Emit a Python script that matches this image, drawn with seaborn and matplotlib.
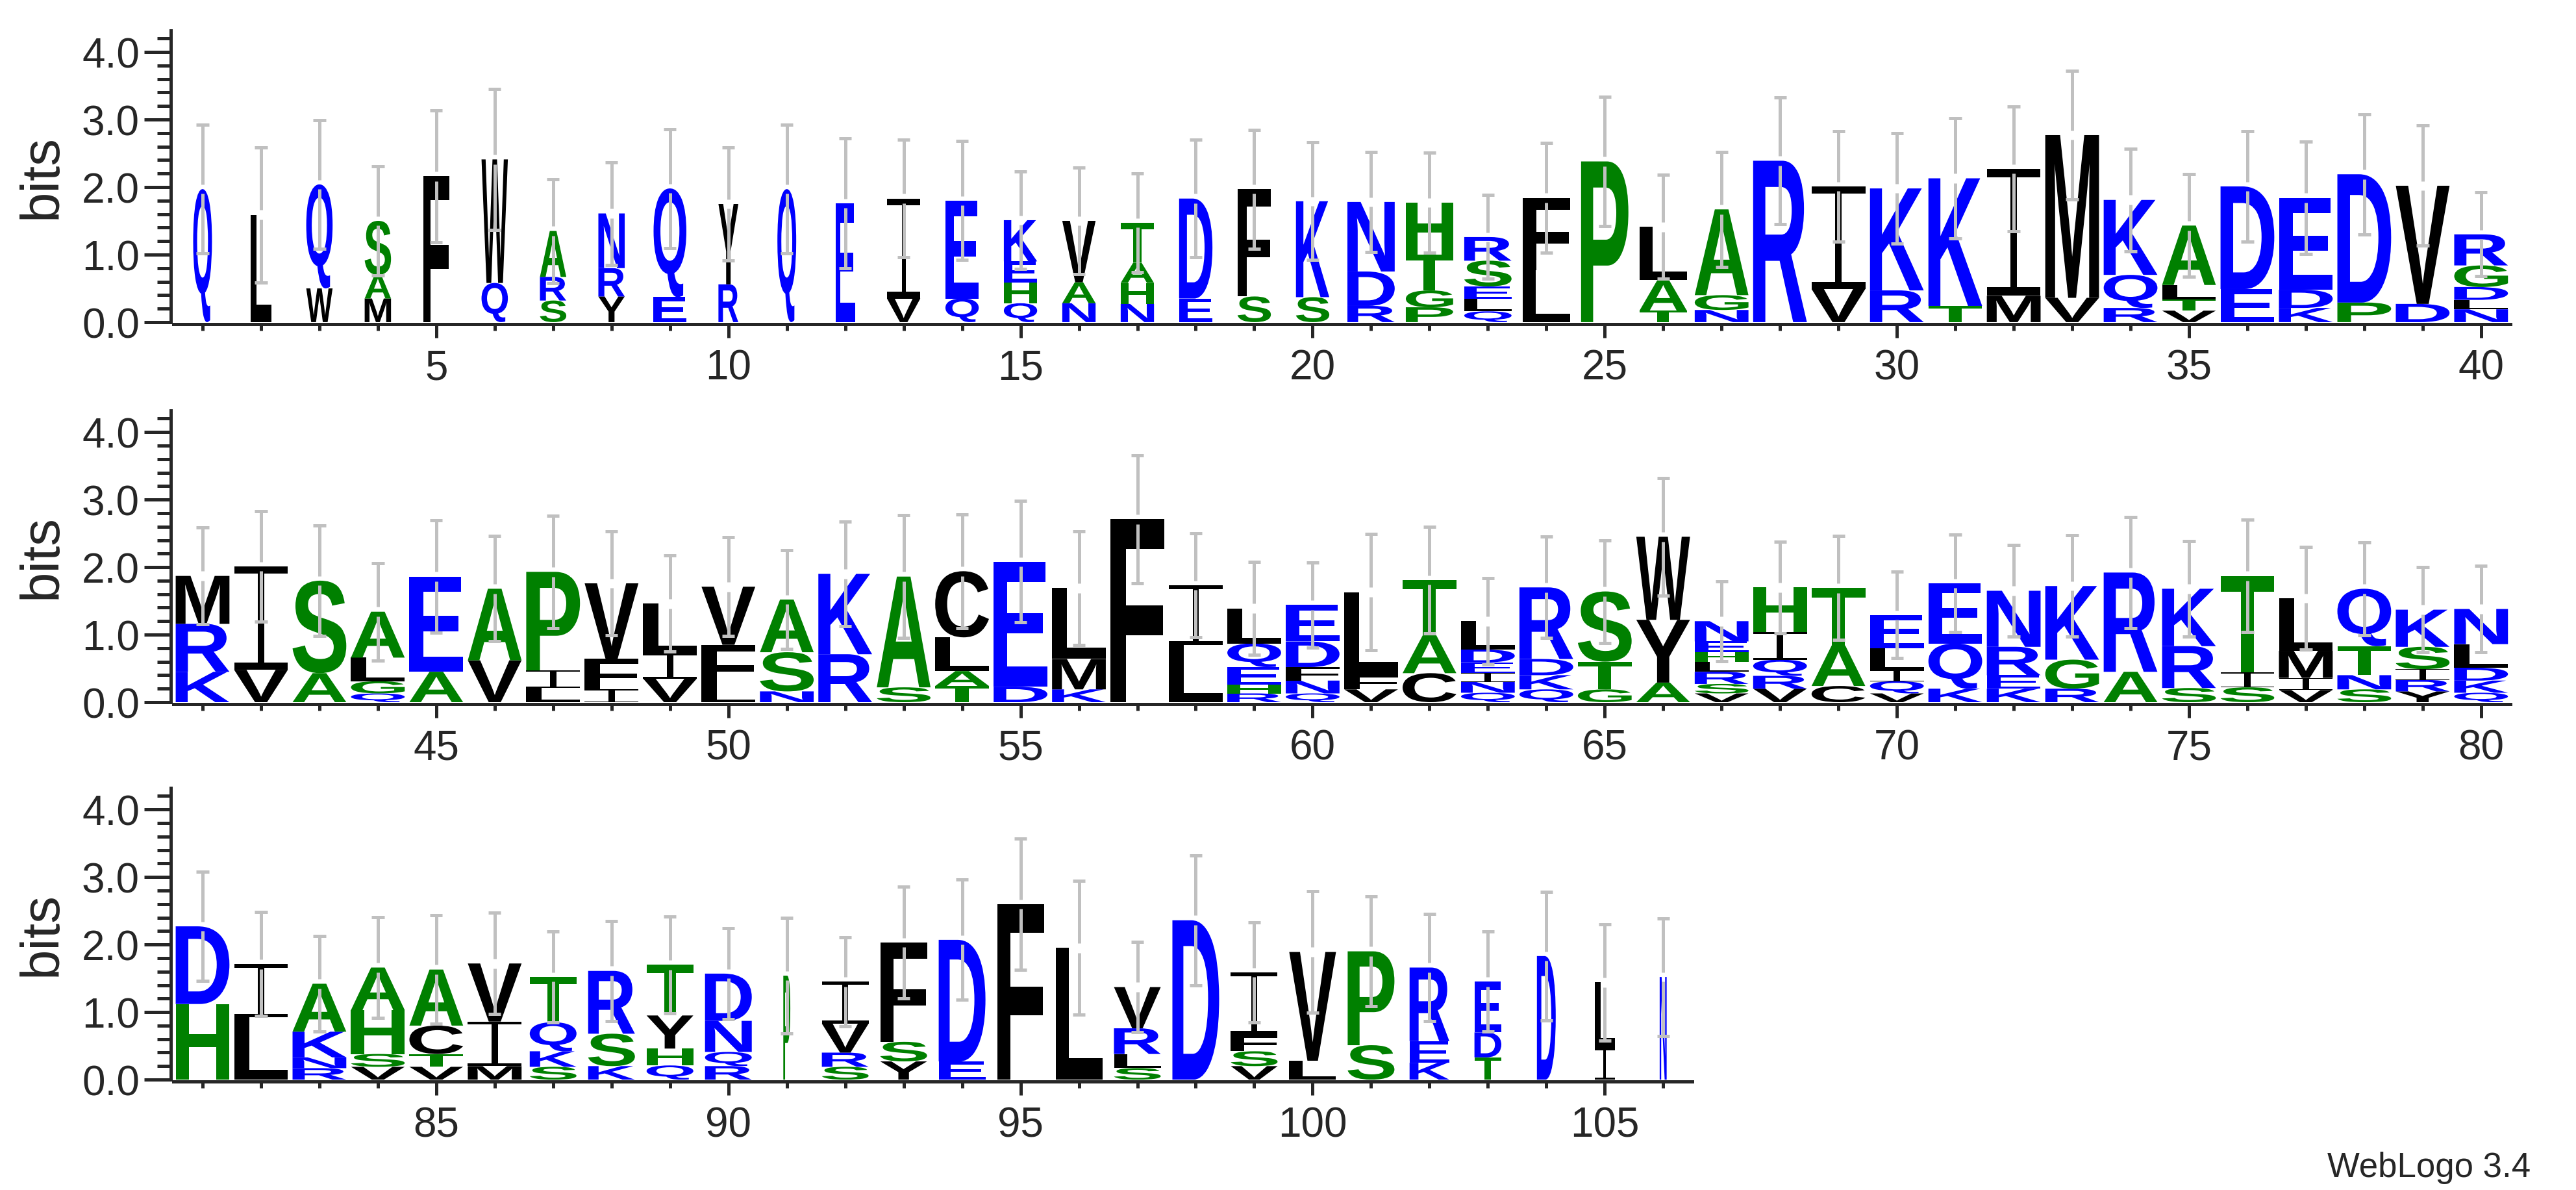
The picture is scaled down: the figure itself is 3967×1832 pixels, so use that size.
import matplotlib
matplotlib.use("Agg")
import matplotlib.pyplot as plt
import seaborn as sns
from matplotlib.textpath import TextPath
from matplotlib.patches import PathPatch
from matplotlib.path import Path
from matplotlib.font_manager import FontProperties
from matplotlib import transforms

# letters of each stack, bottom to top (positions 1..106)
stack_letters = [
    "Q", "L", "WQ", "MAS", "F", "QW", "SRA", "YRN", "EQ", "RY",
    "Q", "E", "VI", "QE", "QHEK", "NAV", "NHAT", "ED", "SF", "SK",
    "RDN", "PGTH", "QLESR", "LF", "P", "TAL", "NGA", "R", "VI", "RK",
    "TK", "MI", "VM", "RQK", "VTLA", "ED", "KDE", "PD", "DV", "NLDGR",
    "KRM", "VI", "AS", "QGLA", "AE", "VA", "LIP", "IFV", "VIL", "LFV",
    "NSA", "RK", "SA", "TALC", "DE", "KML", "F", "LI", "RHEQL", "QNFDE",
    "VFL", "CAT", "QNIEDL", "QKDR", "GTS", "AYW", "VSRLHEN", "VRQIH", "CAT", "VQILE",
    "KQE", "KERN", "RGK", "AR", "SRK", "SIT", "VIML", "SNTQ", "YRISK", "QKDLN",
    "HD", "LI", "RNKA", "VSHA", "VTCA", "MIV", "SKQT", "KSR", "QHYT", "RQND",
    "P", "SRVI", "YSF", "ED", "F", "L", "SLRV", "D", "VSFI", "LV",
    "SP", "KER", "TDE", "D", "IL", "N",
]

# bits of each letter, same order
stack_bits = [
    [1.97], [1.59], [0.50, 1.54], [0.35, 0.35, 0.80], [2.16],
    [0.58, 1.83], [0.32, 0.35, 0.68], [0.38, 0.42, 0.81], [0.37, 1.61], [0.56, 1.19],
    [1.97], [1.76], [0.35, 1.48], [0.35, 1.45], [0.28, 0.31, 0.31, 0.61],
    [0.28, 0.31, 0.91], [0.27, 0.31, 0.30, 0.59], [0.35, 1.48], [0.38, 1.59], [0.37, 1.42],
    [0.24, 0.51, 1.03], [0.22, 0.25, 0.53, 0.77], [0.16, 0.19, 0.18, 0.38, 0.35], [0.77, 1.07], [2.38],
    [0.17, 0.45, 0.79], [0.18, 0.22, 1.27], [2.39], [0.49, 1.52], [0.47, 1.51],
    [0.24, 1.89], [0.39, 1.88], [0.36, 2.41], [0.21, 0.49, 1.11], [0.17, 0.17, 0.21, 0.88],
    [0.49, 1.52], [0.21, 0.27, 1.36], [0.29, 1.90], [0.27, 1.75], [0.19, 0.14, 0.19, 0.32, 0.46],
    [0.45, 0.71, 0.71], [0.48, 1.53], [0.43, 1.37], [0.13, 0.18, 0.35, 0.68], [0.45, 1.41],
    [0.62, 1.06], [0.21, 0.26, 1.46], [0.19, 0.45, 1.12], [0.35, 0.37, 0.74], [0.22, 0.63, 0.86],
    [0.16, 0.58, 0.78], [0.71, 1.19], [0.22, 1.64], [0.24, 0.22, 0.50, 0.98], [0.23, 1.85],
    [0.19, 0.45, 1.05], [2.71], [0.85, 0.88], [0.13, 0.13, 0.26, 0.35, 0.52], [0.13, 0.19, 0.20, 0.38, 0.54],
    [0.19, 0.21, 1.23], [0.43, 0.56, 0.82], [0.14, 0.16, 0.13, 0.16, 0.19, 0.42], [0.19, 0.21, 0.24, 1.06], [0.19, 0.41, 1.04],
    [0.29, 0.93, 1.23], [0.13, 0.14, 0.18, 0.15, 0.14, 0.16, 0.30], [0.20, 0.19, 0.24, 0.41, 0.66], [0.24, 0.60, 0.85], [0.13, 0.18, 0.16, 0.33, 0.49],
    [0.20, 0.67, 0.89], [0.20, 0.20, 0.42, 0.83], [0.20, 0.43, 1.09], [0.45, 1.47], [0.21, 0.62, 0.85],
    [0.22, 0.22, 1.43], [0.18, 0.18, 0.40, 0.78], [0.19, 0.21, 0.43, 0.85], [0.16, 0.17, 0.16, 0.33, 0.55], [0.14, 0.18, 0.19, 0.35, 0.52],
    [1.12, 1.15], [0.92, 0.79], [0.17, 0.16, 0.38, 0.71], [0.19, 0.19, 0.65, 0.63], [0.19, 0.19, 0.42, 0.83],
    [0.20, 0.66, 0.86], [0.19, 0.23, 0.43, 0.67], [0.20, 0.48, 0.93], [0.21, 0.25, 0.49, 0.75], [0.20, 0.21, 0.46, 0.70],
    [1.54], [0.19, 0.21, 0.43, 0.62], [0.27, 0.29, 1.47], [0.27, 1.80], [2.60],
    [1.95], [0.17, 0.21, 0.38, 0.61], [2.36], [0.20, 0.22, 0.24, 0.93], [0.28, 1.61],
    [0.51, 1.39], [0.25, 0.32, 1.09], [0.33, 0.37, 0.75], [1.83], [0.46, 0.98], [1.52],
]

# half length of the error bar at each stack top (bits)
err_bits = [
    0.95, 1.00, 0.95, 0.81, 0.98, 1.04, 0.77, 0.76, 0.88, 0.84,
    0.95, 0.96, 0.87, 0.88, 0.72, 0.79, 0.73, 0.87, 0.88, 0.87,
    0.74, 0.74, 0.62, 0.81, 0.96, 0.77, 0.85, 0.94, 0.82, 0.82,
    0.89, 0.92, 0.95, 0.76, 0.76, 0.82, 0.83, 0.89, 0.89, 0.62,
    0.72, 0.82, 0.82, 0.72, 0.83, 0.78, 0.83, 0.77, 0.71, 0.73,
    0.73, 0.77, 0.91, 0.84, 0.90, 0.84, 0.95, 0.77, 0.69, 0.63,
    0.86, 0.79, 0.64, 0.75, 0.76, 0.87, 0.59, 0.68, 0.77, 0.64,
    0.72, 0.68, 0.75, 0.82, 0.71, 0.83, 0.76, 0.69, 0.63, 0.64,
    0.81, 0.77, 0.71, 0.75, 0.80, 0.75, 0.67, 0.74, 0.72, 0.67,
    0.86, 0.66, 0.83, 0.89, 0.97, 0.99, 0.67, 0.96, 0.74, 0.90,
    0.81, 0.79, 0.74, 0.95, 0.86, 0.87,
]

# stack width (fraction of a full column, i.e. occupancy)
col_width = (
    [0.35, 0.38] + [0.49] * 6 + [0.61, 0.37, 0.35, 0.36] + [0.62] * 8
    + [0.88] * 6 + [1.0] * 60 + [0.87] * 4 + [0.13] + [0.87] * 10
    + [0.74, 0.50, 0.35, 0.37, 0.13]
)

row_ranges = [(1, 40), (41, 80), (81, 106)]

hydro_colors = {}
for aa in "RKDENQ":
    hydro_colors[aa] = "#0000FF"
for aa in "SGHTAP":
    hydro_colors[aa] = "#008000"
for aa in "YVMCLFIW":
    hydro_colors[aa] = "#000000"

sns.set_style("ticks")
plt.rcParams["font.family"] = ["Liberation Sans", "DejaVu Sans"]
glyph_font = FontProperties(family="Liberation Sans", weight="bold")

LINE_W = 3.6
FULL_W = 0.92
GAP = 0.07
CAP = 0.107
YMAX = 4.32

# serif capital I as WebLogo draws it (unit box)
_b, _s = 0.067, 0.06
serif_i = Path([
    (0, 0), (1, 0), (1, _b), (0.5 + _s, _b), (0.5 + _s, 1 - _b), (1, 1 - _b),
    (1, 1), (0, 1), (0, 1 - _b), (0.5 - _s, 1 - _b), (0.5 - _s, _b), (0, _b), (0, 0),
], closed=True)


def draw_letter(ax, ch, x, y0, w, h):
    if ch == "I":
        path = serif_i
        x0, y0g, gw, gh = 0, 0, 1, 1
    else:
        path = TextPath((0, 0), ch, size=1, prop=glyph_font)
        ext = path.get_extents()
        x0, y0g, gw, gh = ext.x0, ext.y0, ext.width, ext.height
    tr = (transforms.Affine2D()
          .translate(-x0, -y0g)
          .scale(w / gw, h / gh)
          .translate(x - w / 2, y0))
    ax.add_patch(PathPatch(tr.transform_path(path), facecolor=hydro_colors[ch],
                           edgecolor="none", zorder=2))


fig = plt.figure(figsize=(39.67, 18.33), dpi=100)
row_bottoms = [0.7289, 0.4097, 0.0927]
full_width = 0.9072

for (start, stop), bottom in zip(row_ranges, row_bottoms):
    n = stop - start + 1
    ax = fig.add_axes([0.0673, bottom, full_width * n / 40, 0.2450])
    for pos in range(start, stop + 1):
        i = pos - 1
        w = FULL_W * col_width[i]
        y = 0.0
        for ch, h in zip(stack_letters[i], stack_bits[i]):
            draw_letter(ax, ch, pos, y, w, h)
            y += h
        e = err_bits[i]
        ax.vlines([pos, pos], [y - e, y + GAP], [y - GAP, y + e], color="#C0C0C0",
                  lw=3.6, zorder=3)
        ax.hlines([y - e, y + e], pos - CAP, pos + CAP, color="#C0C0C0",
                  lw=3.6, zorder=3)

    ax.set_xlim(start - 0.5, stop + 0.5)
    ax.set_ylim(0, YMAX)
    sns.despine(ax=ax)
    for side in ("left", "bottom"):
        ax.spines[side].set_linewidth(LINE_W)
    ax.spines["left"].set_position(("outward", 3))
    ax.spines["bottom"].set_position(("outward", 2))
    ax.set_yticks([0, 1, 2, 3, 4])
    ax.set_yticklabels(["0.0", "1.0", "2.0", "3.0", "4.0"])
    ax.set_yticks([v / 5 for v in range(1, 22) if v % 5], minor=True)
    majors = [p for p in range(start, stop + 1) if p % 5 == 0]
    ax.set_xticks(majors)
    ax.set_xticklabels([str(p) for p in majors])
    ax.set_xticks([p for p in range(start, stop + 1) if p % 5], minor=True)
    ax.tick_params(axis="y", which="major", length=29.5, width=LINE_W, labelsize=46, pad=5)
    ax.tick_params(axis="y", which="minor", length=15, width=LINE_W)
    ax.tick_params(axis="x", which="major", length=15, width=LINE_W, labelsize=46, pad=12)
    ax.tick_params(axis="x", which="minor", length=7.5, width=LINE_W)
    ax.set_ylabel("bits", fontsize=60, labelpad=16)

fig.text(0.9824, 0.0115, "WebLogo 3.4", ha="right", va="baseline", fontsize=38)
fig.savefig("out.png", dpi=100)
